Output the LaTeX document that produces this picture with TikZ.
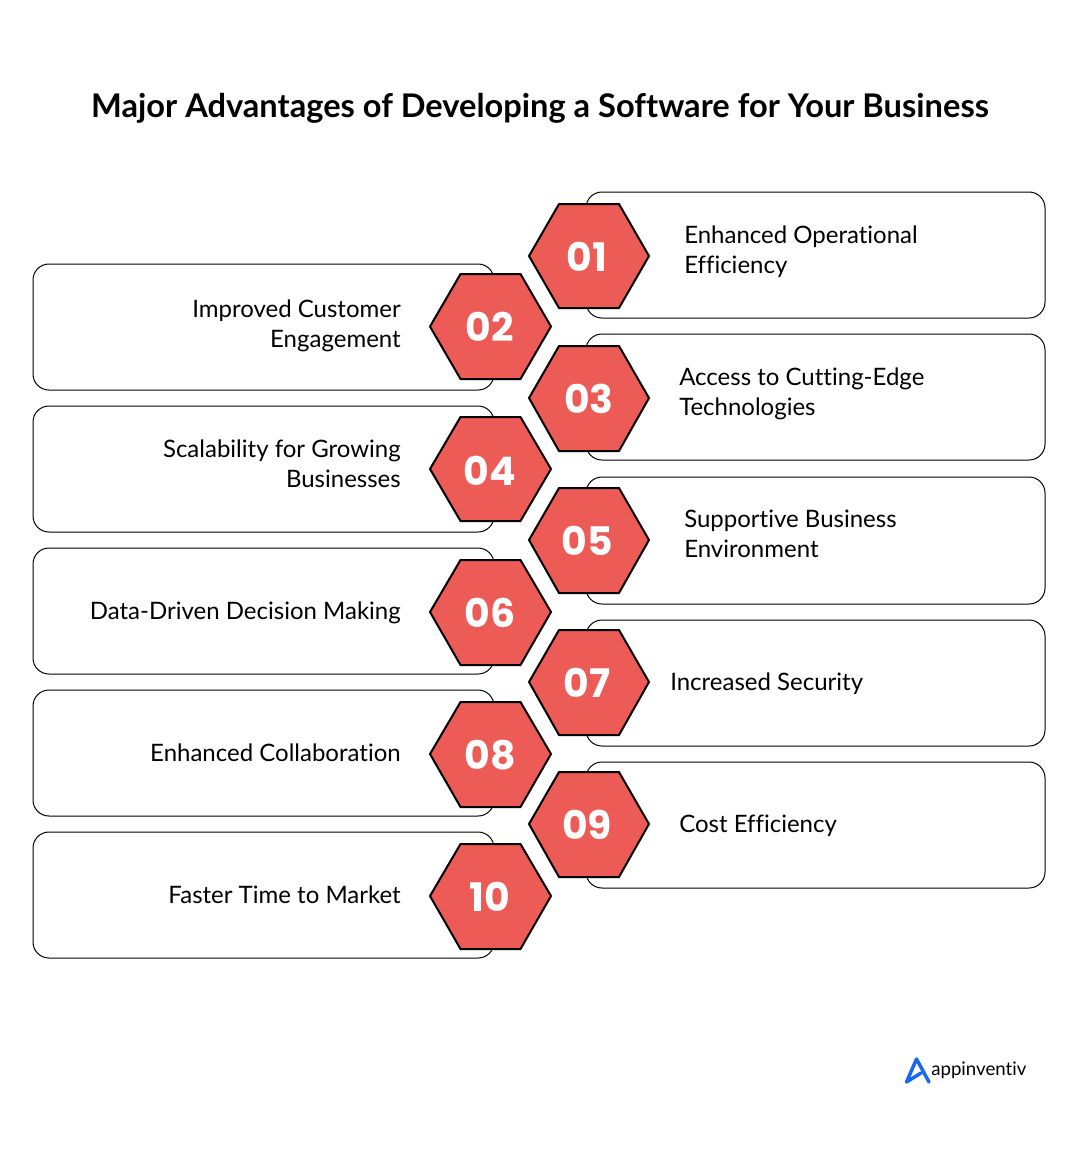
\documentclass[tikz,border=0pt]{standalone}
\usepackage{fontspec}
\setmainfont{Lato}[Ligatures=NoCommon]
\newfontfamily\numfont{Poppins}
\definecolor{hexred}{RGB}{236,91,86}
\definecolor{logoblue}{RGB}{24,104,240}
\tikzset{
	cardbox/.style={draw=black,line width=0.75pt,rounded corners=12pt,fill=white},
	hexcell/.style={draw=black,line width=1.5pt,fill=hexred,line join=miter},
	hexnum/.style={text=white,inner sep=0pt,font=\numfont\bfseries\fontsize{29.5}{29.5}\selectfont},
	cardtext/.style={inner sep=0pt,font=\fontsize{18}{22.5}\selectfont},
}
\begin{document}
\begin{tikzpicture}[x=0.75pt,y=0.75pt,yscale=-1,xscale=1]
	\useasboundingbox (0,0) rectangle (1080,1150);
	\node (title) at (540,108) [inner sep=0pt,font=\bfseries\fontsize{24.45}{28}\selectfont] {Major Advantages of Developing a Software for Your Business};
	% right column cards
	\draw [cardbox] (586,192) rectangle (1045,318);
	\draw [cardbox] (586,334) rectangle (1045,460);
	\draw [cardbox] (586,477) rectangle (1045,604);
	\draw [cardbox] (586,620) rectangle (1045,746);
	\draw [cardbox] (586,762) rectangle (1045,888);
	% left column cards
	\draw [cardbox] (33,264) rectangle (494,390);
	\draw [cardbox] (33,406) rectangle (494,532);
	\draw [cardbox] (33,548) rectangle (494,674);
	\draw [cardbox] (33,690) rectangle (494,816);
	\draw [cardbox] (33,832) rectangle (494,958);
	% hexagons
	\draw [hexcell] (559,204) -- (619,204) -- (649,256) -- (619,308) -- (559,308) -- (529,256) -- cycle ;
	\draw [hexcell] (460.5,274) -- (520.5,274) -- (551,326.5) -- (520.5,379) -- (460.5,379) -- (430,326.5) -- cycle ;
	\draw [hexcell] (559,346) -- (619,346) -- (649,398) -- (619,451) -- (559,451) -- (529,398) -- cycle ;
	\draw [hexcell] (460.5,417) -- (520.5,417) -- (551,469) -- (520.5,521) -- (460.5,521) -- (430,469) -- cycle ;
	\draw [hexcell] (559,488) -- (619,488) -- (649,540) -- (619,593) -- (559,593) -- (529,540) -- cycle ;
	\draw [hexcell] (460.5,560) -- (520.5,560) -- (551,612) -- (520.5,665) -- (460.5,665) -- (430,612) -- cycle ;
	\draw [hexcell] (559,630) -- (619,630) -- (649,682) -- (619,735) -- (559,735) -- (529,682) -- cycle ;
	\draw [hexcell] (460.5,702) -- (520.5,702) -- (551,754) -- (520.5,807) -- (460.5,807) -- (430,754) -- cycle ;
	\draw [hexcell] (559,772) -- (619,772) -- (649,824) -- (619,877) -- (559,877) -- (529,824) -- cycle ;
	\draw [hexcell] (460.5,844) -- (520.5,844) -- (551,896) -- (520.5,949) -- (460.5,949) -- (430,896) -- cycle ;
	% numbers
	\node (n01) at (587,257) [hexnum] {01};
	\node (n02) at (490,327) [hexnum] {02};
	\node (n03) at (589,399) [hexnum] {03};
	\node (n04) at (490,471) [hexnum] {04};
	\node (n05) at (587,541) [hexnum] {05};
	\node (n06) at (490,613) [hexnum] {06};
	\node (n07) at (587,683) [hexnum] {07};
	\node (n08) at (490,755) [hexnum] {08};
	\node (n09) at (587,825) [hexnum] {09};
	\node (n10) at (490,897) [hexnum] {10};
	% labels
	\node (t01) at (684,252) [cardtext,anchor=west,align=left] {Enhanced Operational\\Efficiency};
	\node (t02) at (401,326) [cardtext,anchor=east,align=right] {Improved Customer\\Engagement};
	\node (t03) at (679,394) [cardtext,anchor=west,align=left] {Access to Cutting-Edge\\Technologies};
	\node (t04) at (401,464) [cardtext,anchor=east,align=right] {Scalability for Growing\\Businesses};
	\node (t05) at (684,534) [cardtext,anchor=west,align=left] {Supportive Business\\Environment};
	\node (t06) at (401,613) [cardtext,anchor=east] {Data-Driven Decision Making};
	\node (t07) at (670,684) [cardtext,anchor=west] {Increased Security};
	\node (t08) at (401,753) [cardtext,anchor=east] {Enhanced Collaboration};
	\node (t09) at (679,826) [cardtext,anchor=west] {Cost Efficiency};
	\node (t10) at (401,895) [cardtext,anchor=east] {Faster Time to Market};
	% logo
	\draw [logoblue,line width=2.6pt,line join=round,line cap=round] (906.5,1082) -- (916.5,1059) -- (929,1082) (906.5,1082) -- (921,1073);
	\node (brand) at (931,1070) [anchor=west,inner sep=0pt,font=\fontsize{14}{16}\selectfont] {appinventiv};
\end{tikzpicture}
\end{document}
